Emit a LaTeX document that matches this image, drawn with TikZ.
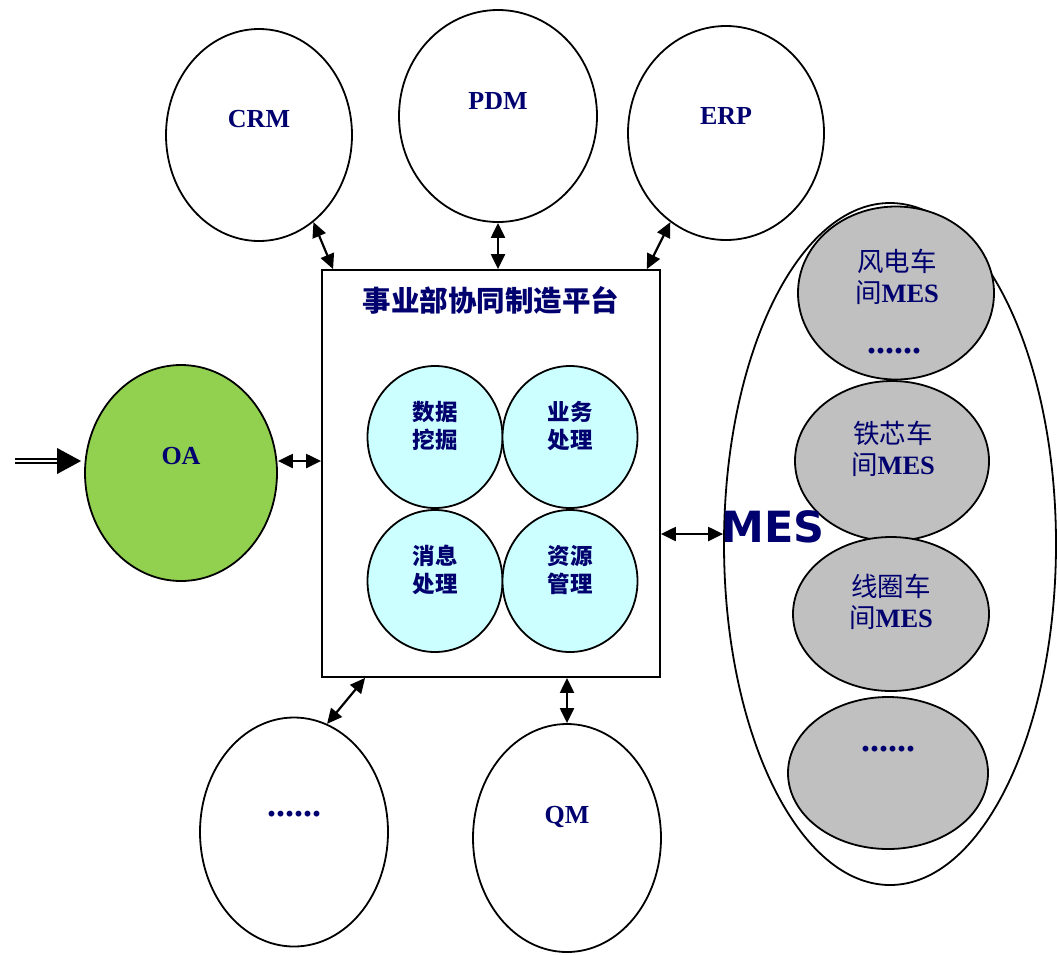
\documentclass[tikz,border=0pt]{standalone}
\usepackage{fontspec}
\setmainfont{Liberation Serif}
\newfontfamily\cjk{Noto Sans CJK SC}
\newfontfamily\mesfont{DejaVu Sans}
\usetikzlibrary{shapes.geometric,arrows.meta,calc}
\definecolor{navy}{RGB}{0,0,110}
\definecolor{oagreen}{RGB}{146,208,80}
\definecolor{lcyan}{RGB}{204,255,255}
\definecolor{lgrey}{RGB}{192,192,192}
\tikzset{
  ell/.style={ellipse, draw=black, line width=1.8pt, inner sep=0pt},
  lbl/.style={text=navy, font=\bfseries\fontsize{26}{28}\selectfont, inner sep=0pt, align=center},
  dotlbl/.style={text=navy, font=\bfseries\fontsize{36}{36}\selectfont, inner sep=0pt},
  cjklbl/.style={text=navy, font=\cjk\bfseries\fontsize{22.5}{28}\selectfont, inner sep=0pt, align=center},
  greylbl/.style={text=navy, font=\fontsize{26.5}{31}\selectfont, inner sep=0pt, align=center},
  conn/.style={line width=2.2pt, {Triangle[length=15pt,width=14pt]}-{Triangle[length=15pt,width=14pt]}},
}
\begin{document}
\begin{tikzpicture}[x=1pt,y=-1pt]
\useasboundingbox (0,0) rectangle (1057,954);
% top ellipses
\node[ell, minimum width=186, minimum height=212] (crm) at (259,135) {};
\node[lbl] at (259,119) {CRM};
\node[ell, minimum width=198, minimum height=212] (pdm) at (498,116) {};
\node[lbl] at (498,101) {PDM};
\node[ell, minimum width=196, minimum height=214] (erp) at (726,133) {};
\node[lbl] at (726,116) {ERP};
% platform box
\node[draw=black, line width=1.8pt, minimum width=338, minimum height=407, inner sep=0pt] (box) at (491,473.5) {};
\node[text=navy, font=\cjk\bfseries\fontsize{28.5}{30}\selectfont, inner sep=0pt] (title) at (491,300) {事业部协同制造平台};
% inner circles
\node[ell, fill=lcyan, minimum width=135, minimum height=142] (c1) at (435,437) {};
\node[ell, fill=lcyan, minimum width=135, minimum height=142] (c2) at (570,437) {};
\node[ell, fill=lcyan, minimum width=135, minimum height=142] (c3) at (435,581) {};
\node[ell, fill=lcyan, minimum width=135, minimum height=142] (c4) at (570,581) {};
\node[cjklbl] at (435,426) {数据\\挖掘};
\node[cjklbl] at (570,426) {业务\\处理};
\node[cjklbl] at (435,570) {消息\\处理};
\node[cjklbl] at (570,570) {资源\\管理};
% OA
\node[ell, fill=oagreen, minimum width=192, minimum height=216] (oa) at (181,473) {};
\node[lbl] at (181,456) {OA};
% bottom ellipses
\node[ell, minimum width=188, minimum height=229] (dots) at (294,832) {};
\node[dotlbl] at (294,814) {......};
\node[ell, minimum width=188, minimum height=228] (qm) at (567,838) {};
\node[lbl] at (567,817) {QM};
% MES
\node[ell, minimum width=332, minimum height=682] (mes) at (890,544) {};
\node[ell, fill=lgrey, minimum width=196, minimum height=173] (g1) at (896,293) {};
\node[ell, fill=lgrey, minimum width=194, minimum height=160] (g2) at (892,461) {};
\node[ell, fill=lgrey, minimum width=196, minimum height=154] (g3) at (891,614) {};
\node[ell, fill=lgrey, minimum width=200, minimum height=152] (g4) at (888,773) {};
\node[greylbl] at (897,277) {{\cjk 风电车}\\{\cjk 间}\textbf{MES}};
\node[dotlbl] at (894,351) {......};
\node[greylbl] at (893,449) {{\cjk 铁芯车}\\{\cjk 间}\textbf{MES}};
\node[greylbl] at (891,602) {{\cjk 线圈车}\\{\cjk 间}\textbf{MES}};
\node[dotlbl] at (888,749) {......};
\node[text=navy, font=\mesfont\bfseries\fontsize{43}{43}\selectfont, inner sep=0pt] (meslbl) at (773,527) {MES};
% connectors
\draw[conn] (crm.-58) -- ($(box.north west)+(12,0)$);
\draw[conn] (pdm.south) -- (pdm.south |- box.north);
\draw[conn] (erp.-122) -- ($(box.north east)+(-14,0)$);
\draw[conn] ($(oa.east)+(0,-12)$) -- ($(box.west |- oa.east)+(0,-12)$);
\draw[conn] ($(box.east)+(0,60.5)$) -- ($(mes.west)+(0,-10)$);
\draw[conn] ($(box.south west)+(44,0)$) -- (dots.73);
\draw[conn] (qm.north |- box.south) -- (qm.north);
% input arrow to OA
\coordinate (src) at (15,461);
\coordinate (tip) at ($(oa.west)+(-3,-12)$);
\draw[double=white, double distance=2.5pt, line width=2pt] (src) -- ($(tip)+(-20,0)$);
\fill[black] ($(tip)+(-24,-13)$) -- (tip) -- ($(tip)+(-24,13)$) -- cycle;
\end{tikzpicture}
\end{document}
